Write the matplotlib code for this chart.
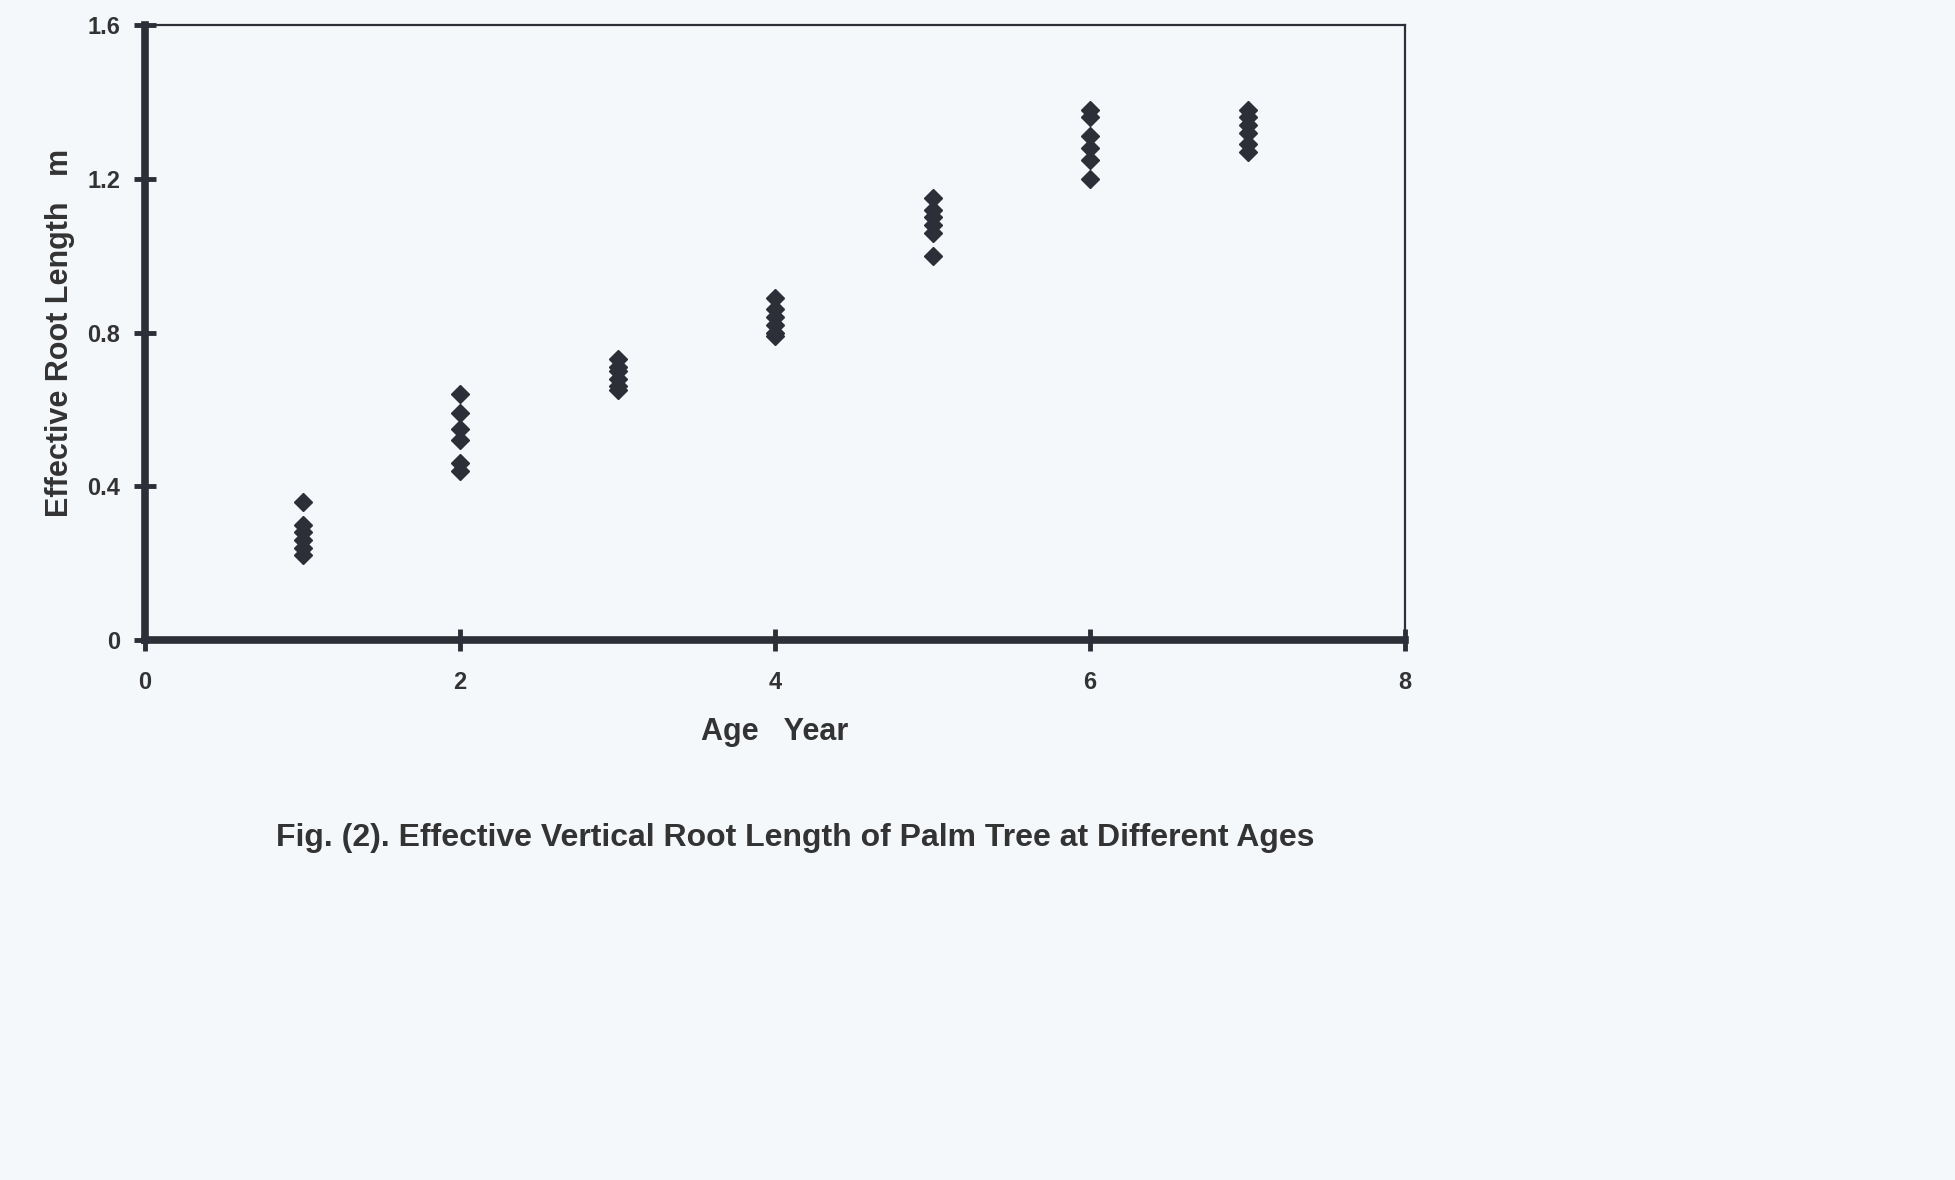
import numpy as np
import matplotlib
matplotlib.use("Agg")
import matplotlib.pyplot as plt

plt.rcParams['font.family'] = ['Liberation Sans', 'DejaVu Sans']
plt.rcParams['font.weight'] = 'bold'

# data: age (years) and effective root length (m)
ages = [1, 2, 3, 4, 5, 6, 7]
root_len = [
    [0.36, 0.30, 0.28, 0.26, 0.24, 0.22],
    [0.64, 0.59, 0.55, 0.52, 0.46, 0.44],
    [0.73, 0.71, 0.70, 0.68, 0.66, 0.65],
    [0.89, 0.86, 0.84, 0.82, 0.80, 0.79],
    [1.15, 1.12, 1.10, 1.08, 1.06, 1.00],
    [1.38, 1.36, 1.31, 1.28, 1.25, 1.20],
    [1.38, 1.36, 1.34, 1.32, 1.29, 1.27],
]
x_ticks = [0, 2, 4, 6, 8]
y_ticks = [0, 0.4, 0.8, 1.2, 1.6]
y_tick_labels = ['0', '0.4', '0.8', '1.2', '1.6']

ink = '#2c2f38'
paper = '#f5f8fb'

fig = plt.figure(figsize=(19.55, 11.8), dpi=100, facecolor=paper)
ax = fig.add_axes([0.0742, 0.4576, 0.6445, 0.5212])
ax.set_facecolor(paper)

xs = np.concatenate([[a] * len(v) for a, v in zip(ages, root_len)])
ys = np.concatenate(root_len)
ax.plot(xs, ys, linestyle='none', marker='D', ms=9.5, color=ink, mec=ink)

ax.set_xlim(0, 8)
ax.set_ylim(0, 1.6)
ax.set_xticks(x_ticks)
ax.set_yticks(y_ticks)
ax.set_yticklabels(y_tick_labels)

for side in ['left', 'bottom']:
    ax.spines[side].set_linewidth(5.5)
    ax.spines[side].set_color(ink)
for side in ['top', 'right']:
    ax.spines[side].set_linewidth(1.6)
    ax.spines[side].set_color(ink)

ax.tick_params(axis='both', direction='inout', length=16, width=3.5,
               color=ink, labelcolor='#333333', labelsize=17)
ax.tick_params(axis='x', pad=14)
ax.tick_params(axis='y', pad=10)

ax.set_xlabel('Age   Year', fontsize=22, fontweight='bold', color='#333333')
ax.set_ylabel('Effective Root Length   m', fontsize=22, fontweight='bold', color='#333333')
ax.xaxis.set_label_coords(0.5, -0.125)
ax.yaxis.set_label_coords(-0.056, 0.5)

fig.text(0.4068, 0.29, 'Fig. (2). Effective Vertical Root Length of Palm Tree at Different Ages',
         ha='center', va='center', fontsize=23, fontweight='bold', color='#333333')

fig.savefig('out.png', dpi=100, facecolor=paper)
